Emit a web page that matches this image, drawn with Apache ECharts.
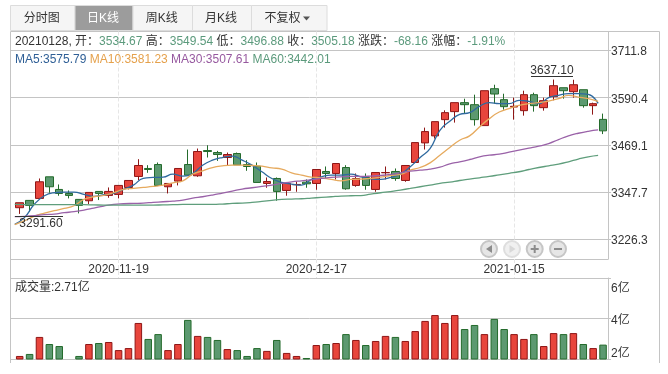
<!DOCTYPE html>
<html><head><meta charset="utf-8">
<style>html,body{margin:0;padding:0;background:#fff}#c{width:668px;height:374px}</style>
<script src="https://cdn.jsdelivr.net/npm/echarts@6/dist/echarts.min.js"></script>
</head><body><div id="c"></div>
<script>
const dates=['2020-11-05','2020-11-06','2020-11-09','2020-11-10','2020-11-11','2020-11-12','2020-11-13','2020-11-16','2020-11-17','2020-11-18','2020-11-19','2020-11-20','2020-11-23','2020-11-24','2020-11-25','2020-11-26','2020-11-27','2020-11-30','2020-12-01','2020-12-02','2020-12-03','2020-12-04','2020-12-07','2020-12-08','2020-12-09','2020-12-10','2020-12-11','2020-12-14','2020-12-15','2020-12-16','2020-12-17','2020-12-18','2020-12-21','2020-12-22','2020-12-23','2020-12-24','2020-12-25','2020-12-28','2020-12-29','2020-12-30','2020-12-31','2021-01-04','2021-01-05','2021-01-06','2021-01-07','2021-01-08','2021-01-11','2021-01-12','2021-01-13','2021-01-14','2021-01-15','2021-01-18','2021-01-19','2021-01-20','2021-01-21','2021-01-22','2021-01-25','2021-01-26','2021-01-27','2021-01-28'];
const dateTicks=['2020-11-19','2020-12-17','2021-01-15'];
const opens=[3307.5,3326.3,3331.4,3387,3354.5,3344.2,3328.9,3325.4,3349.4,3339.1,3341.7,3359.6,3387.9,3408.4,3418.6,3361.4,3375.9,3418.6,3389.6,3454.5,3449.4,3436.6,3446.9,3418.6,3414.4,3369.9,3382.7,3351.9,3366.5,3373.3,3369.9,3400.7,3395.6,3410.9,3364.8,3385.3,3354.5,3397.3,3400.7,3377.6,3423.8,3474.2,3492.2,3534,3554.6,3577.7,3572.5,3518.7,3613.6,3585.4,3566.5,3557.1,3598.2,3564.8,3593.1,3616.1,3605.9,3611,3570,3534.67];
const closes=[3320.3,3313.5,3374.2,3361.4,3344.2,3339.1,3313.5,3346.8,3344.2,3349.4,3364.8,3377.6,3416.1,3405.8,3364.8,3369.9,3408.4,3391.3,3452,3452,3444.3,3444.3,3417.8,3413.5,3372.5,3375,3349.4,3369.9,3367.3,3369,3405.8,3395.6,3421.2,3356.2,3382.7,3364.8,3398.1,3398.1,3382.7,3416.1,3475,3503.3,3528.9,3552,3577.7,3572.5,3534,3608.4,3599.9,3567.4,3568.3,3598.2,3570,3582.8,3621.3,3608.4,3623.8,3570,3575.1,3505.18];
const lows=[3291.6,3297.2,3331.4,3346,3338.3,3331.4,3292.9,3316.9,3327.2,3333.1,3331.4,3354.5,3378.4,3397.3,3363.1,3344.2,3364.8,3391.3,3387,3436.6,3428,3416.9,3417.8,3402.4,3372.5,3358.8,3325.4,3338.3,3348.5,3358.8,3353.7,3382.7,3380.2,3353.7,3361.4,3353.7,3348.5,3380.2,3376.7,3374.2,3423.8,3457.1,3485.3,3513.5,3526.4,3549.5,3518.7,3518.7,3575.1,3559.7,3534,3544.3,3554.6,3557.1,3583.7,3587.9,3590.5,3564.8,3546.9,3496.88];
const highs=[3320.3,3326.3,3382.7,3387,3367.3,3351.9,3328.9,3346.8,3349.4,3359.6,3364.8,3377.6,3432.3,3416.9,3423.8,3369.9,3408.4,3457.1,3459.7,3468.2,3453.7,3449.4,3449.4,3429.7,3423.8,3385.3,3385.3,3369.9,3375,3380.2,3405.8,3413.5,3421.2,3416.9,3395.6,3395.6,3398.1,3413.5,3408.4,3416.1,3475,3513.5,3528.9,3558,3577.7,3587.9,3598.2,3608.4,3623.8,3600.7,3590.5,3608.4,3603.3,3590.5,3637.1,3616.1,3636.6,3611,3577.7,3549.54];
const volumes=[2.15,2.25,3.09,2.74,2.64,2.02,2.15,2.74,2.79,2.84,2.44,2.54,3.78,2.99,3.23,2.44,2.74,3.93,3.14,3.09,2.94,2.49,2.44,2.15,2.54,2.40,2.94,2.30,2.15,2.05,2.69,2.74,2.79,3.23,2.94,2.69,2.89,3.14,3.09,2.89,3.38,3.88,4.17,3.78,4.17,3.48,3.68,3.23,3.98,3.48,3.23,2.99,3.23,2.64,3.28,3.23,3.28,2.74,2.54,2.71];
const ma5=[3264.7,3282.7,3316.9,3338.3,3346,3347.7,3347.7,3341.7,3336.6,3340.8,3344.2,3354.5,3365.6,3382.7,3385.3,3386.2,3393.8,3388.7,3395.6,3416.9,3429.7,3436.6,3440,3429.7,3416.9,3399.8,3382.7,3372.5,3368.2,3365.6,3380.2,3387,3391.3,3391.3,3393.8,3387,3381.9,3380.2,3385.3,3393.8,3412.7,3436.6,3459.7,3506.7,3529.8,3547.7,3552,3568.3,3577.7,3575.1,3575.1,3583.7,3581.1,3575.1,3590.5,3596.5,3600.7,3600.7,3599,3575.79];
const ma10=[3263.9,3274.1,3286.1,3293.8,3299.8,3305.8,3312.6,3328.9,3335.7,3339.1,3346,3354.5,3357.1,3359.6,3362.2,3365.6,3371.6,3376.7,3393.8,3402.4,3410.9,3415.2,3416.9,3416.9,3416.1,3414.4,3410.1,3406.7,3397.3,3391.3,3386.2,3384.4,3380.2,3376.7,3380.2,3381,3382.7,3386.2,3390.4,3393,3404.1,3410.9,3422.9,3442.6,3462.2,3481,3492.2,3515.3,3536.6,3553.7,3562.3,3570.8,3575.1,3577.7,3581.9,3587.9,3596.5,3592.2,3587.9,3581.23];
const ma30=[3284.4,3285.3,3287,3289.5,3291.2,3294.7,3297.2,3301.5,3306.6,3311.8,3316,3317.7,3318.6,3319.4,3321.2,3322.9,3324.6,3327.2,3332.3,3335.7,3340,3345.1,3350.2,3355.4,3358.8,3362.2,3365.6,3369.9,3374.2,3376.7,3379.3,3382.7,3385.3,3387,3387.9,3387.9,3388.7,3390.4,3393,3397.3,3401.5,3404.1,3406.7,3411.8,3420.3,3425.5,3431.5,3438.3,3442.6,3445.1,3450.3,3455.4,3460.5,3465.7,3472.5,3482.8,3492.2,3499,3504.1,3507.61];
const ma60=[3316,3315.6,3315.2,3315.2,3315.2,3315.2,3315.2,3315.2,3314.8,3314.3,3314.3,3314.3,3314.3,3314.3,3314.3,3314.8,3315.2,3316,3316,3316,3316,3316.9,3318.6,3319.4,3321.2,3323.7,3326.3,3328.9,3329.7,3330.6,3332.3,3334,3335.7,3337.4,3338.3,3338.8,3342.5,3346,3349,3353,3357.1,3361.4,3365.6,3369.9,3373.5,3377.5,3381,3384.5,3388,3392,3396,3400,3405.8,3410.9,3415.2,3419.5,3425.5,3432.5,3438.3,3442.01];
const priceTicks=[3226.3,3347.7,3469.1,3590.4,3711.8];
const volumeTicks=[2,4,6];
const tabs=['分时图','日K线','周K线','月K线','不复权'];
const last=59;
const fmt2=v=>v.toFixed(2);

const UP='#e8453c',UPB='#8f1616',DN='#5c9970',DNB='#246b2c';
const FONT='"Liberation Sans","Noto Sans CJK SC",sans-serif';
const LINE='#c4c4c4',TXT='#333333',HG='#5b9a7c';
const C5='#2f6a9f',C10='#e6aa5e',C30='#9a62a8',C60='#5f9e7c';
const PMIN=3175.6,PMAX=3760.7;
const isTick=(i,v)=>dateTicks.includes(v);

const bands=593.25;
const hideX=(g)=>({type:'category',gridIndex:g,data:dates,show:false,boundaryGap:true});
const hideY=(g,min,max)=>({type:'value',gridIndex:g,min,max,show:false});

const tabEdges=[10.5,75,133,192.5,251.5,327];
const gfx=[];
tabs.forEach((t,i)=>{
  const a=tabEdges[i],b=tabEdges[i+1],on=i===1;
  gfx.push({type:'rect',shape:{x:a,y:5.5,width:b-a,height:25},style:{fill:on?'#9c9c9c':'#f5f5f5',stroke:'#dcdcdc',lineWidth:1},silent:true});
  gfx.push({type:'text',x:i===4?a+13:(a+b)/2-1,y:18.5,style:{text:t,fill:on?'#fff':TXT,font:'12px '+FONT,textAlign:i===4?'left':'center',textVerticalAlign:'middle'},silent:true});
});
gfx.push({type:'polygon',shape:{points:[[303,16.5],[310,16.5],[306.5,20.5]]},style:{fill:'#555'},silent:true});
[[10.5,31.5,659.5,31.5],[10.5,31.5,10.5,363],[659.5,31.5,659.5,363]].forEach(p=>gfx.push({type:'line',shape:{x1:p[0],y1:p[1],x2:p[2],y2:p[3]},style:{stroke:LINE,lineWidth:1},silent:true}));
const prev=closes[last]+68.16;
gfx.push({type:'text',x:15,y:41.5,z:20,style:{
  text:`{k|20210128, 开：}{v|${fmt2(opens[last])}} {k|高：}{v|${fmt2(highs[last])}} {k|低：}{v|${fmt2(lows[last])}} {k|收：}{v|${fmt2(closes[last])}} {k|涨跌：}{v|${(closes[last]-prev).toFixed(2)}} {k|涨幅：}{v|-1.91%}`,
  rich:{k:{fill:TXT,font:'12px '+FONT},v:{fill:HG,font:'12px '+FONT}},textVerticalAlign:'middle'},silent:true});
gfx.push({type:'text',x:15,y:59.5,z:20,style:{
  text:`{a|MA5:${fmt2(ma5[last])}} {b|MA10:${fmt2(ma10[last])}} {c|MA30:${fmt2(ma30[last])}} {d|MA60:${fmt2(ma60[last])}}`,
  rich:{a:{fill:'#2f5f96',font:'12px '+FONT},b:{fill:'#e5a14c',font:'12px '+FONT},c:{fill:'#96589f',font:'12px '+FONT},d:{fill:HG,font:'12px '+FONT}},textVerticalAlign:'middle'},silent:true});
gfx.push({type:'text',x:15,y:288,z:20,style:{text:`成交量:${fmt2(volumes[last])}亿`,fill:TXT,font:'12px '+FONT,textVerticalAlign:'middle'},silent:true});
gfx.push({type:'text',x:552,y:70.5,z:20,style:{text:fmt2(Math.max(...highs)),fill:TXT,font:'12px '+FONT,textAlign:'center',textVerticalAlign:'middle'},silent:true});
gfx.push({type:'line',z:20,shape:{x1:531,y1:76.5,x2:573,y2:76.5},style:{stroke:'#333',lineWidth:1},silent:true});
gfx.push({type:'text',x:41,y:224,z:20,style:{text:fmt2(Math.min(...lows)),fill:TXT,font:'12px '+FONT,textAlign:'center',textVerticalAlign:'middle'},silent:true});
gfx.push({type:'line',z:20,shape:{x1:15,y1:216.5,x2:63,y2:216.5},style:{stroke:'#333',lineWidth:1},silent:true});
[489,512,534.7,558].forEach((x,i)=>{
  gfx.push({type:'circle',z:20,shape:{cx:x,cy:249,r:8},style:{fill:i===1?'#f0f0f0':'#e6e6e6',stroke:i===1?'#dedede':'#c6c6c6',lineWidth:2},silent:true});
});
gfx.push({type:'polygon',z:21,shape:{points:[[492,245],[492,253],[486,249]]},style:{fill:'#8c8c8c'},silent:true});
gfx.push({type:'polygon',z:21,shape:{points:[[509.5,245],[509.5,253],[515.5,249]]},style:{fill:'#d8d8d8'},silent:true});
[[530.7,249,538.7,249],[534.7,245,534.7,253],[554,249,562,249]].forEach(p=>gfx.push({type:'line',z:21,shape:{x1:p[0],y1:p[1],x2:p[2],y2:p[3]},style:{stroke:'#8c8c8c',lineWidth:2},silent:true}));

const line=(name,data,color)=>({name,type:'line',xAxisIndex:1,yAxisIndex:1,data,smooth:0.5,symbol:'none',lineStyle:{color,width:1.3},z:5,silent:true,animation:false});

const opt={
  animation:false,
  graphic:gfx,
  grid:[
    {left:14.75,width:bands,top:31.5,height:227.5},
    {left:9.8,width:bands,top:31.5,height:227.5},
    {left:14.75,width:bands,top:278,height:81},
    {left:10.5,width:597.5,top:31.5,height:227.5},
    {left:10.5,width:597.5,top:278,height:81}
  ],
  xAxis:[
    {type:'category',gridIndex:0,data:dates,boundaryGap:true,
     axisLine:{show:false},
     axisTick:{show:true,alignWithLabel:true,length:19,interval:isTick,lineStyle:{color:'#e6e6e6',type:'dashed'}},
     axisLabel:{interval:isTick,color:TXT,fontFamily:FONT,fontSize:12,margin:5,hideOverlap:false},
     splitLine:{show:true,alignWithLabel:true,interval:isTick,lineStyle:{color:'#e6e6e6',type:'dashed'}}},
    hideX(1),
    hideX(2),
    {type:'value',gridIndex:3,min:0,max:1,axisLine:{show:true,onZero:false,lineStyle:{color:LINE}},axisTick:{show:false},axisLabel:{show:false},splitLine:{show:false}},
    {type:'value',gridIndex:4,min:0,max:1,axisLine:{show:true,onZero:false,lineStyle:{color:LINE}},axisTick:{show:false},axisLabel:{show:false},splitLine:{show:false}}
  ],
  yAxis:[
    hideY(0,PMIN,PMAX),
    hideY(1,PMIN,PMAX),
    hideY(2,2,6),
    {type:'value',gridIndex:3,position:'right',min:PMIN,max:PMAX,
     axisLine:{show:true,onZero:false,lineStyle:{color:LINE}},
     axisTick:{show:true,length:3,customValues:priceTicks,lineStyle:{color:LINE}},
     axisLabel:{customValues:priceTicks,color:TXT,fontFamily:FONT,fontSize:12,margin:3,
       formatter:v=>`{p|${v.toFixed(1)}}`,
       rich:{p:{padding:[3,0,0,0],fontFamily:FONT,fontSize:12,color:TXT}}},
     splitLine:{show:true,lineStyle:{color:LINE}}},
    {type:'value',gridIndex:4,position:'right',min:2,max:6,
     axisLine:{show:true,onZero:false,lineStyle:{color:LINE}},
     axisTick:{show:true,length:3,customValues:volumeTicks,lineStyle:{color:LINE}},
     axisLabel:{customValues:volumeTicks,color:TXT,fontFamily:FONT,fontSize:12,margin:3,
       formatter:v=>`{v${v}|${v}亿}`,
       rich:{v2:{padding:[0,0,11,0],fontFamily:FONT,fontSize:12,color:TXT},v4:{padding:[4,0,0,0],fontFamily:FONT,fontSize:12,color:TXT},v6:{padding:[22,0,0,0],fontFamily:FONT,fontSize:12,color:TXT}}},
     splitLine:{show:true,lineStyle:{color:LINE}}}
  ],
  series:[
    {name:'K',type:'candlestick',xAxisIndex:0,yAxisIndex:0,barWidth:8,z:3,silent:true,
     data:opens.map((o,i)=>[o,closes[i],lows[i],highs[i]]),
     itemStyle:{color:UP,color0:DN,borderColor:UPB,borderColor0:DNB,borderWidth:1}},
    line('MA5',ma5,C5),line('MA10',ma10,C10),line('MA30',ma30,C30),line('MA60',ma60,C60),
    {name:'VOL',type:'bar',xAxisIndex:2,yAxisIndex:2,barWidth:7.5,z:3,silent:true,
     data:volumes.map((v,i)=>{const up=closes[i]>=opens[i];return {value:v,itemStyle:{color:up?UP:DN,borderColor:up?UPB:DNB,borderWidth:1}};})}
  ]
};
const chart=echarts.init(document.getElementById('c'),null,{width:668,height:374});
chart.setOption(opt);
</script></body></html>
